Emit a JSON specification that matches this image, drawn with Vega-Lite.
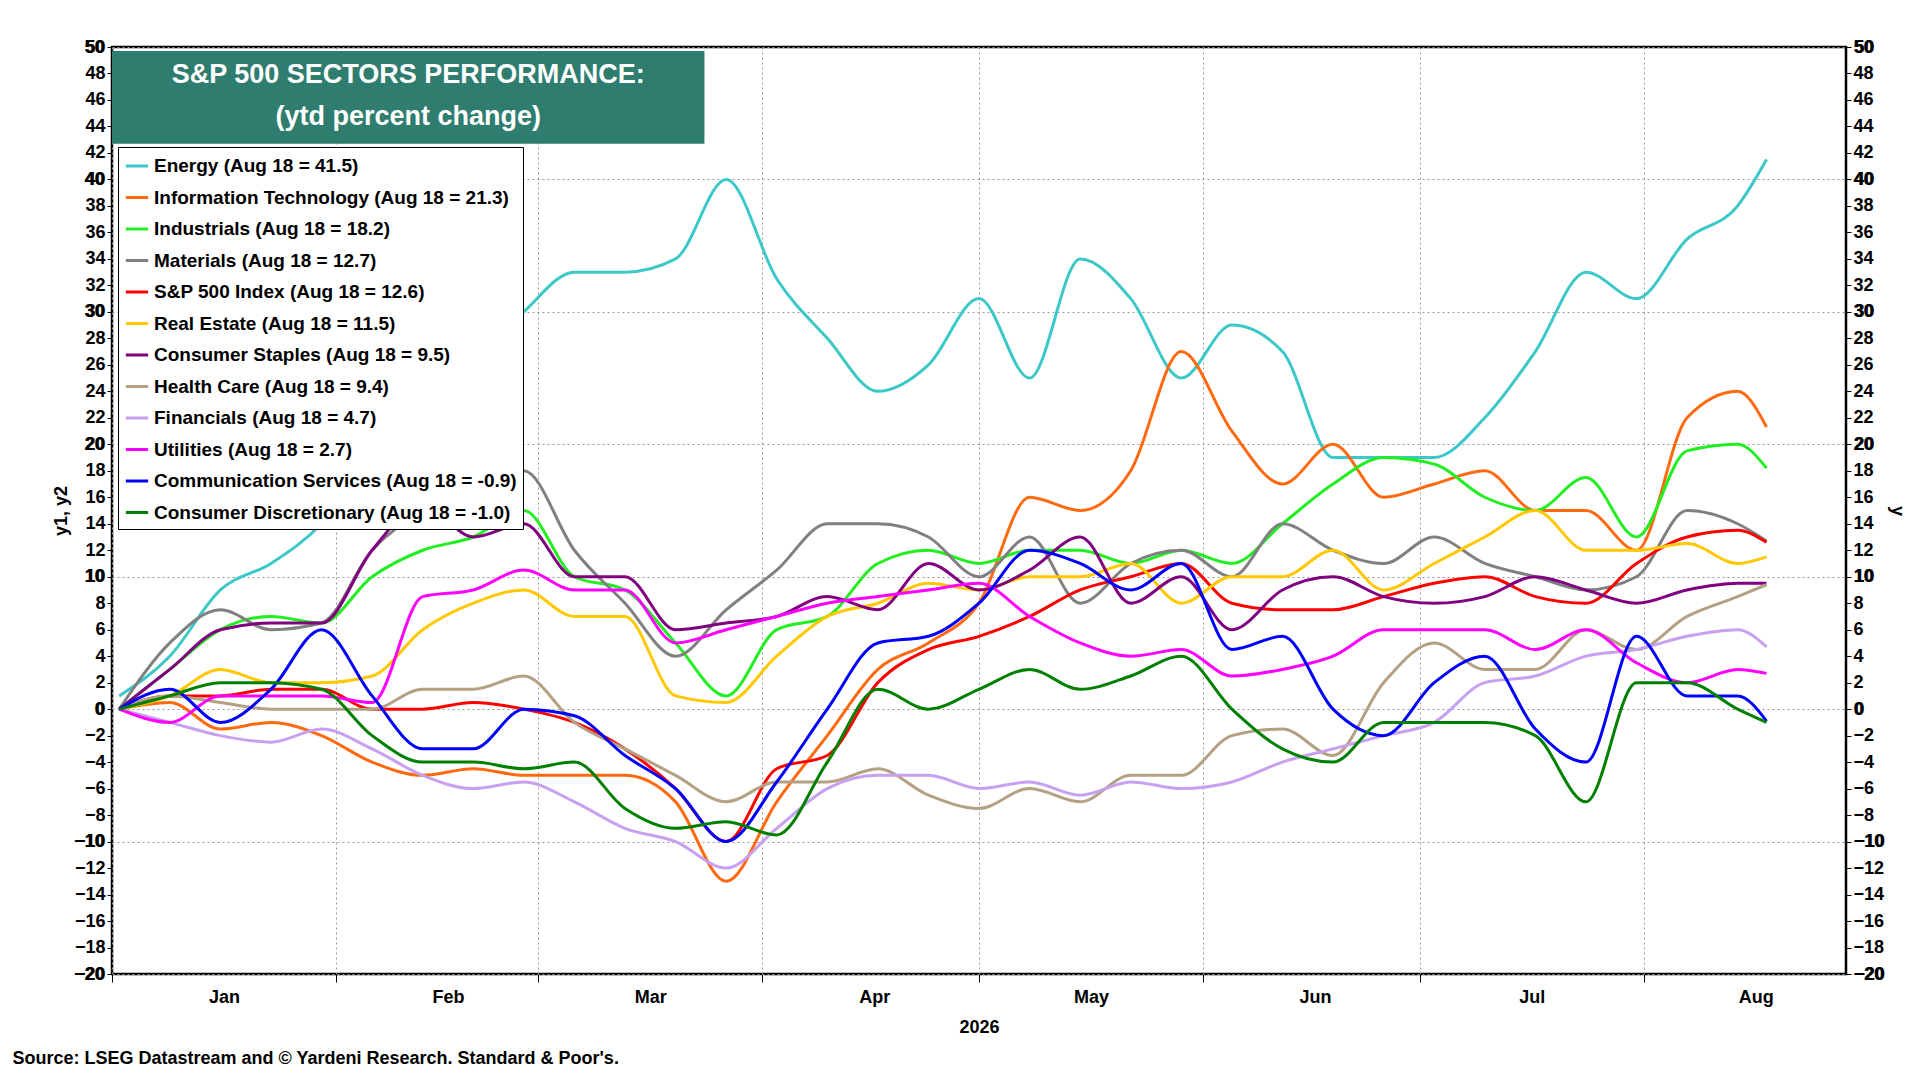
{
"$schema":"https://vega.github.io/schema/vega-lite/v6.json",
"width":1920,"height":1080,
"autosize":{"type":"fit","contains":"padding"},
"padding":{"left":12,"right":14,"top":38,"bottom":12},
"background":"white",
"config":{"font":"Liberation Sans","view":{"stroke":"black","strokeWidth":2.5},
"axis":{"labelFont":"Liberation Sans","labelFontWeight":"bold","labelFontSize":18,"labelColor":"black","titleFont":"Liberation Sans","titleFontWeight":"bold","titleFontSize":18,"domain":false,"tickColor":"black","gridColor":"#999","gridDash":[2,3],"gridWidth":1}},
"title":{"text":"Source: LSEG Datastream and © Yardeni Research. Standard & Poor's.","orient":"bottom","anchor":"start","fontSize":18,"fontWeight":"bold","font":"Liberation Sans","offset":14,"dx":-40},
"datasets":{
"w":[
{"d":"2026-01-02","Energy":1,"IT":0,"Ind":0,"Mat":0,"SP":0,"RE":0,"CS":0,"HC":0,"Fin":0,"Ut":0,"Com":0,"CD":0},
{"d":"2026-01-09","Energy":4,"IT":0.5,"Ind":3,"Mat":5,"SP":1,"RE":1,"CS":3,"HC":1,"Fin":-1,"Ut":-1,"Com":1.5,"CD":1},
{"d":"2026-01-16","Energy":9,"IT":-1.5,"Ind":6,"Mat":7.5,"SP":1,"RE":3,"CS":6,"HC":0.5,"Fin":-2,"Ut":1,"Com":-1,"CD":2},
{"d":"2026-01-23","Energy":11,"IT":-1,"Ind":7,"Mat":6,"SP":1.5,"RE":2,"CS":6.5,"HC":0,"Fin":-2.5,"Ut":1,"Com":1.5,"CD":2},
{"d":"2026-01-30","Energy":14,"IT":-2,"Ind":6.5,"Mat":6.5,"SP":1.5,"RE":2,"CS":6.5,"HC":0,"Fin":-1.5,"Ut":1,"Com":6,"CD":1.5},
{"d":"2026-02-06","Energy":19,"IT":-4,"Ind":10,"Mat":12,"SP":0,"RE":2.5,"CS":12,"HC":0,"Fin":-3,"Ut":0.5,"Com":1,"CD":-2},
{"d":"2026-02-13","Energy":22,"IT":-5,"Ind":12,"Mat":15,"SP":0,"RE":6,"CS":15.5,"HC":1.5,"Fin":-5,"Ut":8.5,"Com":-3,"CD":-4},
{"d":"2026-02-20","Energy":26,"IT":-4.5,"Ind":13,"Mat":17,"SP":0.5,"RE":8,"CS":13,"HC":1.5,"Fin":-6,"Ut":9,"Com":-3,"CD":-4},
{"d":"2026-02-27","Energy":30,"IT":-5,"Ind":15,"Mat":18,"SP":0,"RE":9,"CS":14,"HC":2.5,"Fin":-5.5,"Ut":10.5,"Com":0,"CD":-4.5},
{"d":"2026-03-06","Energy":33,"IT":-5,"Ind":10,"Mat":12,"SP":-1,"RE":7,"CS":10,"HC":-1,"Fin":-7,"Ut":9,"Com":-0.5,"CD":-4},
{"d":"2026-03-13","Energy":33,"IT":-5,"Ind":9,"Mat":8,"SP":-3,"RE":7,"CS":10,"HC":-3,"Fin":-9,"Ut":9,"Com":-3.5,"CD":-7.5},
{"d":"2026-03-20","Energy":34,"IT":-7,"Ind":5,"Mat":4,"SP":-6,"RE":1,"CS":6,"HC":-5,"Fin":-10,"Ut":5,"Com":-6,"CD":-9},
{"d":"2026-03-27","Energy":40,"IT":-13,"Ind":1,"Mat":7.5,"SP":-10,"RE":0.5,"CS":6.5,"HC":-7,"Fin":-12,"Ut":6,"Com":-10,"CD":-8.5},
{"d":"2026-04-03","Energy":32.5,"IT":-7,"Ind":6,"Mat":10.5,"SP":-4.5,"RE":4,"CS":7,"HC":-5.5,"Fin":-9,"Ut":7,"Com":-5.5,"CD":-9.5},
{"d":"2026-04-10","Energy":28,"IT":-2,"Ind":7,"Mat":14,"SP":-3.5,"RE":7,"CS":8.5,"HC":-5.5,"Fin":-6,"Ut":8,"Com":0,"CD":-4},
{"d":"2026-04-17","Energy":24,"IT":3,"Ind":11,"Mat":14,"SP":2,"RE":8,"CS":7.5,"HC":-4.5,"Fin":-5,"Ut":8.5,"Com":5,"CD":1.5},
{"d":"2026-04-24","Energy":26,"IT":5,"Ind":12,"Mat":13,"SP":4.5,"RE":9.5,"CS":11,"HC":-6.5,"Fin":-5,"Ut":9,"Com":5.5,"CD":0},
{"d":"2026-05-01","Energy":31,"IT":8,"Ind":11,"Mat":10,"SP":5.5,"RE":9,"CS":9,"HC":-7.5,"Fin":-6,"Ut":9.5,"Com":8,"CD":1.5},
{"d":"2026-05-08","Energy":25,"IT":16,"Ind":12,"Mat":13,"SP":7,"RE":10,"CS":10.5,"HC":-6,"Fin":-5.5,"Ut":7,"Com":12,"CD":3},
{"d":"2026-05-15","Energy":34,"IT":15,"Ind":12,"Mat":8,"SP":9,"RE":10,"CS":13,"HC":-7,"Fin":-6.5,"Ut":5,"Com":11,"CD":1.5},
{"d":"2026-05-22","Energy":31,"IT":18,"Ind":11,"Mat":11,"SP":10,"RE":11,"CS":8,"HC":-5,"Fin":-5.5,"Ut":4,"Com":9,"CD":2.5},
{"d":"2026-05-29","Energy":25,"IT":27,"Ind":12,"Mat":12,"SP":11,"RE":8,"CS":10,"HC":-5,"Fin":-6,"Ut":4.5,"Com":11,"CD":4},
{"d":"2026-06-05","Energy":29,"IT":21,"Ind":11,"Mat":10,"SP":8,"RE":10,"CS":6,"HC":-2,"Fin":-5.5,"Ut":2.5,"Com":4.5,"CD":0},
{"d":"2026-06-12","Energy":27,"IT":17,"Ind":14,"Mat":14,"SP":7.5,"RE":10,"CS":9,"HC":-1.5,"Fin":-4,"Ut":3,"Com":5.5,"CD":-3},
{"d":"2026-06-19","Energy":19,"IT":20,"Ind":17,"Mat":12,"SP":7.5,"RE":12,"CS":10,"HC":-3.5,"Fin":-3,"Ut":4,"Com":0,"CD":-4},
{"d":"2026-06-26","Energy":19,"IT":16,"Ind":19,"Mat":11,"SP":8.5,"RE":9,"CS":8.5,"HC":2,"Fin":-2,"Ut":6,"Com":-2,"CD":-1},
{"d":"2026-07-03","Energy":19,"IT":17,"Ind":18.5,"Mat":13,"SP":9.5,"RE":11,"CS":8,"HC":5,"Fin":-1,"Ut":6,"Com":2,"CD":-1},
{"d":"2026-07-10","Energy":22,"IT":18,"Ind":16,"Mat":11,"SP":10,"RE":13,"CS":8.5,"HC":3,"Fin":2,"Ut":6,"Com":4,"CD":-1},
{"d":"2026-07-17","Energy":27,"IT":15,"Ind":15,"Mat":10,"SP":8.5,"RE":15,"CS":10,"HC":3,"Fin":2.5,"Ut":4.5,"Com":-1.5,"CD":-2},
{"d":"2026-07-24","Energy":33,"IT":15,"Ind":17.5,"Mat":9,"SP":8,"RE":12,"CS":9,"HC":6,"Fin":4,"Ut":6,"Com":-4,"CD":-7},
{"d":"2026-07-31","Energy":31,"IT":12,"Ind":13,"Mat":10,"SP":11,"RE":12,"CS":8,"HC":4.5,"Fin":4.5,"Ut":3.5,"Com":5.5,"CD":2},
{"d":"2026-08-07","Energy":35.5,"IT":22,"Ind":19.5,"Mat":15,"SP":13,"RE":12.5,"CS":9,"HC":7,"Fin":5.5,"Ut":2,"Com":1,"CD":2},
{"d":"2026-08-14","Energy":38,"IT":24,"Ind":20,"Mat":14,"SP":13.5,"RE":11,"CS":9.5,"HC":8.5,"Fin":6,"Ut":3,"Com":1,"CD":0},
{"d":"2026-08-18","Energy":41.5,"IT":21.3,"Ind":18.2,"Mat":12.7,"SP":12.6,"RE":11.5,"CS":9.5,"HC":9.4,"Fin":4.7,"Ut":2.7,"Com":-0.9,"CD":-1.0}
],
"names":[
{"k":"Energy","n":"Energy (Aug 18 = 41.5)"},
{"k":"IT","n":"Information Technology (Aug 18 = 21.3)"},
{"k":"Ind","n":"Industrials (Aug 18 = 18.2)"},
{"k":"Mat","n":"Materials (Aug 18 = 12.7)"},
{"k":"SP","n":"S&P 500 Index (Aug 18 = 12.6)"},
{"k":"RE","n":"Real Estate (Aug 18 = 11.5)"},
{"k":"CS","n":"Consumer Staples (Aug 18 = 9.5)"},
{"k":"HC","n":"Health Care (Aug 18 = 9.4)"},
{"k":"Fin","n":"Financials (Aug 18 = 4.7)"},
{"k":"Ut","n":"Utilities (Aug 18 = 2.7)"},
{"k":"Com","n":"Communication Services (Aug 18 = -0.9)"},
{"k":"CD","n":"Consumer Discretionary (Aug 18 = -1.0)"}
],
"box":[{"x1":"2026-01-01","x2":"2026-03-24","y1":42.7,"y2":49.7}],
"lab":[{"x":"2026-02-11","y":47.9,"t":"S&P 500 SECTORS PERFORMANCE:"},{"x":"2026-02-11","y":44.7,"t":"(ytd percent change)"}]
},
"resolve":{"scale":{"y":"shared"},"axis":{"y":"independent"}},
"layer":[
{"data":{"name":"w"},
"transform":[{"fold":["Energy","IT","Ind","Mat","SP","RE","CS","HC","Fin","Ut","Com","CD"],"as":["k","v"]},
{"lookup":"k","from":{"data":{"name":"names"},"key":"k","fields":["n"]}}],
"mark":{"type":"line","strokeWidth":3,"interpolate":"monotone"},
"encoding":{
"x":{"field":"d","type":"temporal","scale":{"domain":["2026-01-01","2026-08-29"]},
"axis":{"tickCount":{"interval":"month","step":1},"format":"%b","labelOffset":112,"labelFlush":false,"title":"2026","titlePadding":12,"tickSize":8,"labelPadding":6,"grid":true}},
"y":{"field":"v","type":"quantitative","scale":{"domain":[-20,50]},"axis":{"values":[-20,-10,0,10,20,30,40,50],"title":null,"tickSize":0,"labelPadding":8,"grid":true}},
"color":{"field":"n","type":"nominal","sort":null,
"scale":{"domain":["Energy (Aug 18 = 41.5)","Information Technology (Aug 18 = 21.3)","Industrials (Aug 18 = 18.2)","Materials (Aug 18 = 12.7)","S&P 500 Index (Aug 18 = 12.6)","Real Estate (Aug 18 = 11.5)","Consumer Staples (Aug 18 = 9.5)","Health Care (Aug 18 = 9.4)","Financials (Aug 18 = 4.7)","Utilities (Aug 18 = 2.7)","Communication Services (Aug 18 = -0.9)","Consumer Discretionary (Aug 18 = -1.0)"],
"range":["#3CC8C8","#FF6A10","#22EE22","#808080","#FF0000","#FFC800","#800080","#B4A082","#C8A0F0","#FF00FF","#0000FF","#008000"]},
"legend":{"title":null,"orient":"none","legendX":6,"legendY":100,"symbolType":"stroke","symbolStrokeWidth":3,"symbolSize":500,"labelFontSize":19,"labelFontWeight":"bold","labelFont":"Liberation Sans","labelColor":"black","rowPadding":8.5,"fillColor":"white","strokeColor":"black","padding":6,"labelLimit":600}},
"order":{"field":"k","sort":"descending"}}},
{"mark":{"type":"rule","color":"black","strokeWidth":1.2},"encoding":{"y":{"datum":0,"type":"quantitative","axis":{"orient":"right","values":[-20,-10,0,10,20,30,40,50],"title":null,"tickSize":0,"labelPadding":8,"grid":false}}}},
{"data":{"name":"box"},"mark":{"type":"rect","color":"#2E7D6E"},"encoding":{"x":{"field":"x1","type":"temporal"},"x2":{"field":"x2"},"y":{"field":"y1","type":"quantitative"},"y2":{"field":"y2"}}},
{"data":{"name":"lab"},"mark":{"type":"text","color":"white","fontSize":27,"fontWeight":"bold","font":"Liberation Sans"},"encoding":{"x":{"field":"x","type":"temporal"},"y":{"field":"y","type":"quantitative"},"text":{"field":"t"}}}
]
}
